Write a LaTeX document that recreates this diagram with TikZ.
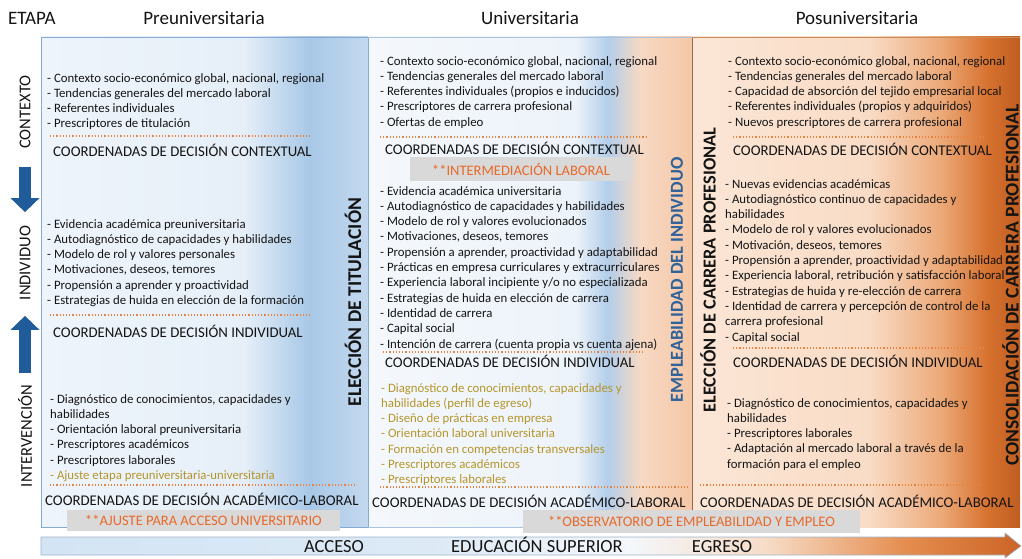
\documentclass[tikz,border=0pt]{standalone}
\usepackage{fontspec}
\setmainfont{Carlito}
\usetikzlibrary{arrows.meta}
\definecolor{txt}{HTML}{141414}
\definecolor{panelblue}{HTML}{86ABD2}
\definecolor{panelbrown}{HTML}{8E6B57}
\definecolor{panelorange}{HTML}{C98A5C}
\definecolor{arrowblue}{HTML}{1F5C99}
\definecolor{arrowedge}{HTML}{9FB3C8}
\definecolor{dotcol}{HTML}{E8843F}
\definecolor{olive}{HTML}{B5952A}
\definecolor{boxgray}{HTML}{D9D9D9}
\definecolor{boxtext}{HTML}{E8692A}
\definecolor{empblue}{HTML}{2F6299}
% panel colours
\definecolor{pbase}{HTML}{EEF4FB}\definecolor{pbaseb}{HTML}{E6EFF8}
\definecolor{pblue}{HTML}{A8C8E7}\definecolor{pblueb}{HTML}{C3D8EE}
\definecolor{ubase}{HTML}{F4F8FC}\definecolor{ubaseb}{HTML}{EDF3FA}
\definecolor{ublue}{HTML}{B3CEEA}\definecolor{upeach}{HTML}{F7D9C4}
\definecolor{uorange}{HTML}{F5C7A6}
\definecolor{obase}{HTML}{FBE6D6}\definecolor{obaseb}{HTML}{F9DCC6}
\definecolor{omid}{HTML}{ECA978}\definecolor{odark}{HTML}{D7722F}
\definecolor{odeep}{HTML}{BF5E22}
\definecolor{ablue}{HTML}{D3E4F4}\definecolor{abluem}{HTML}{DDEAF6}
\definecolor{awhite}{HTML}{F4F7FB}\definecolor{apeach}{HTML}{F7DCC8}
\definecolor{aorange}{HTML}{E58E50}\definecolor{adeep}{HTML}{CC6426}

\pgfdeclarehorizontalshading{preshade}{100bp}{color(0bp)=(pbase); color(25bp)=(pbase);
  color(56bp)=(pbaseb); color(66bp)=(pblue); color(75bp)=(pblueb); color(100bp)=(pblueb)}
\pgfdeclarehorizontalshading{unishade}{100bp}{color(0bp)=(ubase); color(25bp)=(ubase);
  color(57bp)=(ubaseb); color(62bp)=(ublue); color(67bp)=(upeach); color(75bp)=(uorange);
  color(100bp)=(uorange)}
\pgfdeclarehorizontalshading{posshade}{100bp}{color(0bp)=(obase); color(25bp)=(obase);
  color(52bp)=(obaseb); color(63bp)=(omid); color(70bp)=(odark); color(75bp)=(odeep);
  color(100bp)=(odeep)}
\pgfdeclarehorizontalshading{arrowshade}{100bp}{color(0bp)=(ablue); color(25bp)=(ablue);
  color(45bp)=(abluem); color(55bp)=(awhite); color(62bp)=(apeach); color(69bp)=(aorange);
  color(75bp)=(adeep); color(100bp)=(adeep)}

\tikzset{
  lst/.style={anchor=north west, inner sep=0pt, align=left, text=txt,
    font=\fontsize{12.8}{15.3}\selectfont, execute at begin node=\strut},
  crd/.style={anchor=base west, inner sep=0pt, text=txt, font=\fontsize{14.8}{16}\selectfont},
  hdr/.style={inner sep=0pt, text=txt, font=\fontsize{19}{21}\selectfont},
  side/.style={rotate=90, inner sep=0pt, text=txt, font=\fontsize{16.5}{18}\selectfont},
  vlab/.style={rotate=90, inner sep=0pt, font=\bfseries\fontsize{18.3}{20}\selectfont},
  dotsep/.style={dotcol, dotted, line width=1.2pt},
  graybox/.style={fill=boxgray, text=boxtext, inner sep=0pt, font=\fontsize{14.5}{16}\selectfont},
  stage/.style={anchor=base, inner sep=0pt, text=txt, font=\fontsize{18.5}{20}\selectfont},
  blockarrow/.style={arrowblue, line width=12pt, -{Triangle[width=28pt,length=14pt]}},
}

\begin{document}
\begin{tikzpicture}[x=1pt, y=-1pt]
  \useasboundingbox (0,0) rectangle (1022,559);

  % panels (shaded backgrounds first)
  \shade[shading=preshade] (41,37) rectangle (368,527);
  \shade[shading=unishade] (368,37) rectangle (692,527);
  \shade[shading=posshade] (692,37) rectangle (1020,527);
  \draw[panelblue, line width=0.8pt] (41,37) rectangle (368,527);
  \draw[panelblue!70, line width=0.8pt] (368,37) -- (692,37) (368,527) -- (692,527);
  \draw[panelbrown, line width=0.8pt] (692,37) -- (692,527);
  \draw[panelorange, line width=0.8pt] (692,37) -- (1020,37);

  % bottom arrow
  \shadedraw[shading=arrowshade, draw=arrowedge, line width=0.6pt]
    (41,537) -- (1005,537) -- (1005,533) -- (1021,546) -- (1005,558) -- (1005,555) -- (41,555) -- cycle;
  \node[stage] (acceso) at (334,552) {ACCESO};
  \node[stage] (eduSup) at (537,552) {EDUCACIÓN SUPERIOR};
  \node[stage] (egreso) at (722,552) {EGRESO};

  % headers
  \node[hdr, anchor=west] (etapa) at (8,18) {ETAPA};
  \foreach \n/\x/\t in {preHead/204/Preuniversitaria, uniHead/530/Universitaria, posHead/857/Posuniversitaria}
    \node[hdr] (\n) at (\x,18) {\t};

  % row labels and arrows
  \node[side] (ctxLab) at (25,112) {CONTEXTO};
  \node[side] (indLab) at (25,263) {INDIVIDUO};
  \node[side] (intLab) at (25,436) {INTERVENCIÓN};
  \draw[blockarrow, shorten <=18.5pt, shorten >=13.5pt] (ctxLab.west) -- (indLab.east);
  \draw[blockarrow, shorten <=11.5pt, shorten >=15.5pt] (intLab.east) -- (indLab.west);

  % vertical stage labels
  \node[vlab, text=txt, font=\bfseries\fontsize{19.5}{20}\selectfont] (elecTit) at (353,302) {ELECCIÓN DE TITULACIÓN};
  \node[vlab, text=empblue] (emplInd) at (677,280) {EMPLEABILIDAD DEL INDIVIDUO};
  \node[vlab, text=txt] (elecCar) at (708,270) {ELECCIÓN DE CARRERA PROFESIONAL};
  \node[vlab, text=txt, font=\bfseries\fontsize{19.5}{20}\selectfont] (consCar) at (1010.5,285) {CONSOLIDACIÓN DE CARRERA PROFESIONAL};

  % preuniversitaria
  \node[lst] (preCtx) at (47,73) {- Contexto socio-económico global, nacional, regional\\
    - Tendencias generales del mercado laboral\\- Referentes individuales\\- Prescriptores de titulación};
  \node[lst] (preInd) at (47,219) {- Evidencia académica preuniversitaria\\
    - Autodiagnóstico de capacidades y habilidades\\- Modelo de rol y valores personales\\
    - Motivaciones, deseos, temores\\- Propensión a aprender y proactividad\\
    - Estrategias de huida en elección de la formación};
  \node[lst] (preInt) at (50,394) {- Diagnóstico de conocimientos, capacidades y\\habilidades\\
    - Orientación laboral preuniversitaria\\- Prescriptores académicos\\- Prescriptores laborales\\
    \textcolor{olive}{- Ajuste etapa preuniversitaria-universitaria}};

  % universitaria
  \node[lst] (uniCtx) at (380,56) {- Contexto socio-económico global, nacional, regional\\
    - Tendencias generales del mercado laboral\\- Referentes individuales (propios e inducidos)\\
    - Prescriptores de carrera profesional\\- Ofertas de empleo};
  \node[lst] (uniInd) at (380,186) {- Evidencia académica universitaria\\
    - Autodiagnóstico de capacidades y habilidades\\- Modelo de rol y valores evolucionados\\
    - Motivaciones, deseos, temores\\- Propensión a aprender, proactividad y adaptabilidad\\
    - Prácticas en empresa curriculares y extracurriculares\\
    - Experiencia laboral incipiente y/o no especializada\\
    - Estrategias de huida en elección de carrera\\- Identidad de carrera\\- Capital social\\
    - Intención de carrera (cuenta propia vs cuenta ajena)};
  \node[lst, text=olive] (uniInt) at (381,383) {- Diagnóstico de conocimientos, capacidades y\\
    habilidades (perfil de egreso)\\- Diseño de prácticas en empresa\\
    - Orientación laboral universitaria\\- Formación en competencias transversales\\
    - Prescriptores académicos\\- Prescriptores laborales};

  % posuniversitaria
  \node[lst] (posCtx) at (728,56) {- Contexto socio-económico global, nacional, regional\\
    - Tendencias generales del mercado laboral\\- Capacidad de absorción del tejido empresarial local\\
    - Referentes individuales (propios y adquiridos)\\- Nuevos prescriptores de carrera profesional};
  \node[lst] (posInd) at (725,179) {- Nuevas evidencias académicas\\
    - Autodiagnóstico continuo de capacidades y\\habilidades\\
    - Modelo de rol y valores evolucionados\\- Motivación, deseos, temores\\
    - Propensión a aprender, proactividad y adaptabilidad\\
    - Experiencia laboral, retribución y satisfacción laboral\\
    - Estrategias de huida y re-elección de carrera\\
    - Identidad de carrera y percepción de control de la\\carrera profesional\\- Capital social};
  \node[lst] (posInt) at (727,398) {- Diagnóstico de conocimientos, capacidades y\\habilidades\\
    - Prescriptores laborales\\- Adaptación al mercado laboral a través de la\\
    formación para el empleo};

  % dotted separators
  \foreach \xa/\xb/\y in {50/312/136, 50/312/315, 50/355/485, 380/647/137, 383/645/352,
      380/690/487, 733/985/137, 733/985/348, 700/980/485}
    \draw[dotsep] (\xa,\y) -- (\xb,\y);

  % decision coordinates
  \foreach \n/\x/\y/\t in {preCc/53/157/CONTEXTUAL, preCi/53/337/INDIVIDUAL,
      preCa/45/505/ACADÉMICO-LABORAL, uniCc/385/154/CONTEXTUAL, uniCi/385/367/INDIVIDUAL,
      uniCa/372/507/ACADÉMICO-LABORAL, posCc/733/155/CONTEXTUAL, posCi/733/367/INDIVIDUAL,
      posCa/700/507/ACADÉMICO-LABORAL}
    \node[crd] (\n) at (\x,\y) {COORDENADAS DE DECISIÓN \t};

  % grey boxes
  \node[graybox, minimum width=273pt, minimum height=21pt] (ajusteBox) at (203.5,520.5)
    {**AJUSTE PARA ACCESO UNIVERSITARIO};
  \node[graybox, minimum width=222pt, minimum height=24pt] (intermBox) at (521,169)
    {**INTERMEDIACIÓN LABORAL};
  \node[graybox, minimum width=337pt, minimum height=23pt] (obsBox) at (691.5,521.5)
    {**OBSERVATORIO DE EMPLEABILIDAD Y EMPLEO};
\end{tikzpicture}
\end{document}
